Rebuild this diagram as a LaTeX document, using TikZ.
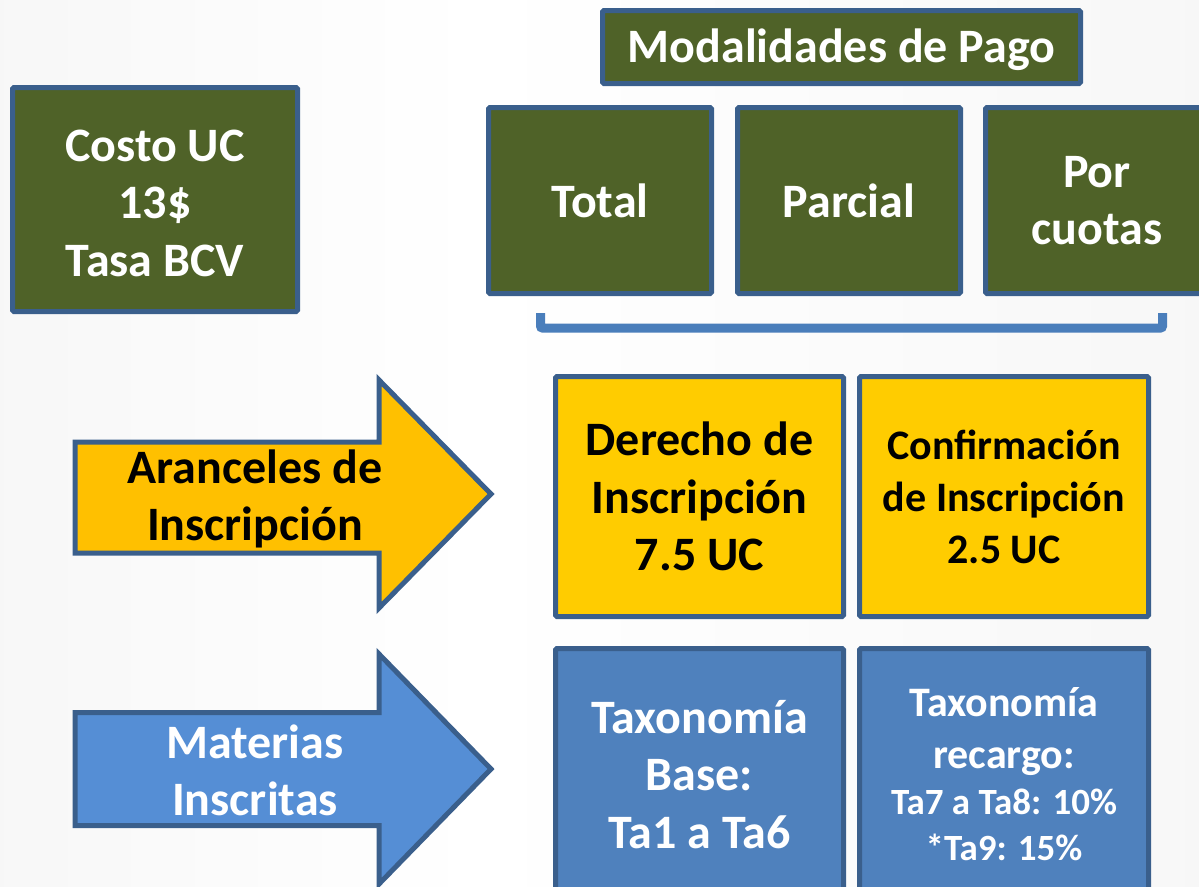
\documentclass[tikz,border=0pt]{standalone}
\usepackage{fontspec}
\setmainfont{Carlito}
\definecolor{olivefill}{HTML}{4F6228}
\definecolor{edgeblue}{HTML}{3A5F8C}
\definecolor{boxyellow}{HTML}{FFCC00}
\definecolor{arrowyellow}{HTML}{FFC000}
\definecolor{boxblue}{HTML}{4F81BD}
\definecolor{arrowblue}{HTML}{558ED5}
\definecolor{bracketblue}{HTML}{4A7EBB}
\definecolor{bggray}{HTML}{EEEEEE}
\pgfdeclarehorizontalshading{bgshade}{100bp}{color(0bp)=(bggray); color(45bp)=(white); color(75bp)=(white!97!black); color(100bp)=(bggray)}
\tikzset{
  card/.style={draw=edgeblue, line width=5pt, rounded corners=1.5pt, inner sep=0pt, align=center, font=\bfseries\fontsize{48}{57.5}\selectfont},
  greencard/.style={card, fill=olivefill, text=white},
  yellowcard/.style={card, fill=boxyellow, text=black},
  bluecard/.style={card, fill=boxblue, text=white},
  cardtext/.style={inner sep=0pt, align=center, text=white, font=\bfseries\fontsize{48}{57.5}\selectfont},
  arrowshape/.style={draw=edgeblue, line width=5pt, line join=miter},
  arrowlabel/.style={inner sep=0pt, align=center, font=\bfseries\fontsize{48}{57}\selectfont},
  bracket/.style={draw=bracketblue, line width=9pt, rounded corners=2pt}
}
\begin{document}
\begin{tikzpicture}[x=1pt, y=-1pt]
\useasboundingbox (0,0) rectangle (1199,886);
\shade[shading=bgshade] (0,0) rectangle (1199,886);

% top-left box
\node[greencard, minimum width=285pt, minimum height=224pt] (costo) at (155,199.5) {};
\node[cardtext] (costotext) at (155,203) {Costo UC\\13\$\\Tasa BCV};

% Modalidades de pago
\node[greencard, minimum width=478pt, minimum height=73pt] (modal) at (841.5,47) {};
\node[cardtext] (modaltext) at (841.5,50) {Modalidades de Pago};
\node[greencard, minimum width=223pt, minimum height=186pt] (total) at (600,200.5) {Total};
\node[greencard, minimum width=223pt, minimum height=186pt] (parcial) at (849,200.5) {Parcial};
\node[greencard, minimum width=223pt, minimum height=186pt] (cuotas) at (1097,200.5) {Por\\cuotas};

% bracket
\coordinate (bl) at (540.5,313);
\coordinate (br) at (1162.5,313);
\draw[bracket] (bl) -- (540.5,328) -- (1162.5,328) -- (br);

% arrow 1
\draw[arrowshape, fill=arrowyellow] (75,442) -- (379,442) -- (379,380) -- (491,494) -- (379,608) -- (379,553) -- (75,553) -- cycle;
\node[arrowlabel, text=black] (aranceles) at (255,499) {Aranceles de\\Inscripción};

% arrow 2
\draw[arrowshape, fill=arrowblue] (75,712.5) -- (379,712.5) -- (379,654) -- (491,769) -- (379,884) -- (379,825.5) -- (75,825.5) -- cycle;
\node[arrowlabel, text=white] (materias) at (255,770) {Materias\\Inscritas};

% yellow boxes
\node[yellowcard, minimum width=288pt, minimum height=240pt] (derecho) at (699.5,496.5) {Derecho de\\Inscripción\\7.5 UC};
\node[yellowcard, minimum width=289pt, minimum height=240pt, font=\bfseries\fontsize{42}{52}\selectfont] (confirm) at (1004,496.5) {Confirmación\\de Inscripción\\2.5 UC};

% blue boxes
\node[bluecard, minimum width=288pt, minimum height=252pt] (base) at (699.5,774.5) {Taxonomía\\Base:\\ Ta1 a Ta6};
\node[bluecard, minimum width=289pt, minimum height=252pt, font=\bfseries\fontsize{42}{52}\selectfont] (recargo) at (1004,774.5) {Taxonomía\\recargo:\\[-6pt]{\fontsize{37}{44}\selectfont Ta7 a Ta8: 10\%}\\[-6pt]{\fontsize{37}{44}\selectfont *Ta9: 15\%}};
\end{tikzpicture}
\end{document}
